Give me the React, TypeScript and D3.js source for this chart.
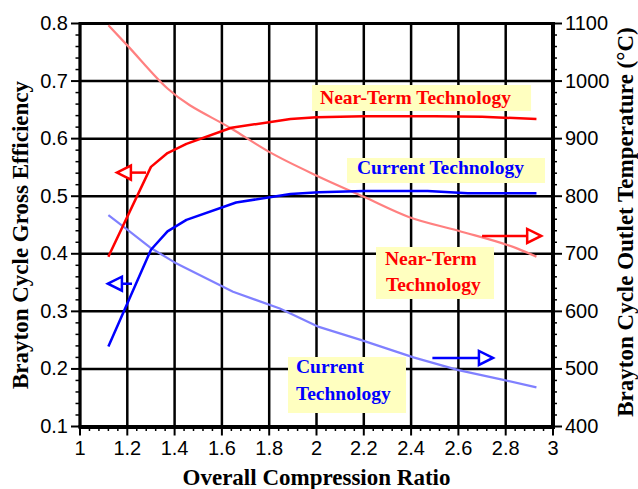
import React from "react";
import * as d3 from "d3";

// ---------- data ----------
const ntEffX = [1.12, 1.3, 1.37, 1.45, 1.64, 1.89, 2.0, 2.2, 2.5, 2.7, 2.93];
const ntEffY = [0.395, 0.551, 0.575, 0.591, 0.619, 0.634, 0.637, 0.639, 0.639, 0.638, 0.634];

const curEffX = [1.12, 1.3, 1.37, 1.45, 1.66, 1.89, 2.01, 2.2, 2.47, 2.64, 2.93];
const curEffY = [0.239, 0.407, 0.439, 0.459, 0.489, 0.504, 0.507, 0.509, 0.509, 0.505, 0.505];

const ntTempX = [1.12, 1.2, 1.37, 1.65, 1.8, 2.01, 2.2, 2.39, 2.6, 2.85, 2.93];
const ntTempY = [1097, 1062, 987, 915, 877, 834, 799, 764, 740, 709, 695];

const curTempX = [1.12, 1.2, 1.296, 1.4, 1.647, 1.845, 2.01, 2.19, 2.41, 2.6, 2.79, 2.93];
const curTempY = [767, 742, 711, 685, 634, 605, 573, 550, 520, 498, 481, 468];

const xTicks = [1, 1.2, 1.4, 1.6, 1.8, 2, 2.2, 2.4, 2.6, 2.8, 3];
const yLeftTicks = [0.1, 0.2, 0.3, 0.4, 0.5, 0.6, 0.7, 0.8];
const yRightTicks = [400, 500, 600, 700, 800, 900, 1000, 1100];

// ---------- layout ----------
const W = 638;
const H = 489;
const L = 80, R = 553, T = 23.5, B = 426.5;

const x = d3.scaleLinear().domain([1, 3]).range([L, R]);
const yL = d3.scaleLinear().domain([0.1, 0.8]).range([B, T]);
const yR = d3.scaleLinear().domain([400, 1100]).range([B, T]);

const RED = "#FF0000";
const BLUE = "#0000FF";
const PINK = "#FF8080";
const LBLUE = "#8080FF";
const BOX = "#FFFFC0";

const SANS = "'Liberation Sans', Arial, sans-serif";
const SERIF = "'Liberation Serif', 'Times New Roman', serif";

function pathFor(
  xs: number[],
  ys: number[],
  yScale: d3.ScaleLinear<number, number>,
  curve: d3.CurveFactory = d3.curveLinear
) {
  const pts = xs.map((v, i) => [v, ys[i]] as [number, number]);
  return d3
    .line<[number, number]>()
    .x((d) => x(d[0]))
    .y((d) => yScale(d[1]))
    .curve(curve)(pts) as string;
}

function Arrow({ x0, x1, yv, color }: { x0: number; x1: number; yv: number; color: string }) {
  const dir = x1 > x0 ? 1 : -1;
  const headLen = 14;
  const half = 7;
  const back = x1 - dir * headLen;
  return (
    <g stroke={color} strokeWidth={2.5} fill="none">
      <line x1={x0} y1={yv} x2={back} y2={yv} />
      <path d={`M${x1},${yv} L${back},${yv - half} L${back},${yv + half} Z`} fill="white" />
    </g>
  );
}

export default function App() {
  const minorX = d3.range(1, 3.0001, 0.04).filter((v) => Math.abs(v * 5 - Math.round(v * 5)) > 1e-6);
  const minorYL = d3.range(0.1, 0.8001, 0.02).filter((v) => Math.abs(v * 10 - Math.round(v * 10)) > 1e-6);
  const minorYR = d3.range(400, 1100.01, 20).filter((v) => v % 100 !== 0);

  return (
    <svg width={W} height={H} style={{ position: "absolute", left: 0, top: 0, background: "white" }}>
      <rect x={0} y={0} width={W} height={H} fill="white" />
      {/* grid */}
      <g stroke="black" strokeWidth={2.5}>
        {xTicks.map((t) => (
          <line key={"gx" + t} x1={x(t)} x2={x(t)} y1={T} y2={B} />
        ))}
        {yLeftTicks.map((t) => (
          <line key={"gy" + t} x1={L} x2={R} y1={yL(t)} y2={yL(t)} />
        ))}
      </g>
      {/* frame */}
      <g stroke="black">
        <line x1={L} x2={L} y1={T - 1.5} y2={B + 1.5} strokeWidth={3} />
        <line x1={R} x2={R} y1={T - 1.5} y2={B + 2} strokeWidth={4} />
        <line x1={L} x2={R} y1={T} y2={T} strokeWidth={3} />
        <line x1={L - 1.5} x2={R + 2} y1={B + 0.5} y2={B + 0.5} strokeWidth={4} />
      </g>
      {/* ticks */}
      <g stroke="black" strokeWidth={2}>
        {xTicks.map((t) => (
          <line key={"tx" + t} x1={x(t)} x2={x(t)} y1={B} y2={B + 9} />
        ))}
        {minorX.map((t) => (
          <line key={"mx" + t} x1={x(t)} x2={x(t)} y1={B + 2} y2={B + 4.5} strokeWidth={1.5} />
        ))}
        {yLeftTicks.map((t) => (
          <line key={"ty" + t} x1={L - 9} x2={L} y1={yL(t)} y2={yL(t)} />
        ))}
        {minorYL.map((t) => (
          <line key={"my" + t} x1={L - 4.5} x2={L} y1={yL(t)} y2={yL(t)} strokeWidth={1.5} />
        ))}
        {yRightTicks.map((t) => (
          <line key={"tr" + t} x1={R} x2={R + 9} y1={yR(t)} y2={yR(t)} />
        ))}
        {minorYR.map((t) => (
          <line key={"mr" + t} x1={R} x2={R + 4} y1={yR(t)} y2={yR(t)} strokeWidth={1.5} />
        ))}
      </g>
      {/* tick labels */}
      <g fontFamily={SANS} fontSize={20} fill="black">
        {xTicks.map((t) => (
          <text key={"lx" + t} x={x(t)} y={455} textAnchor="middle">
            {d3.format("~g")(t)}
          </text>
        ))}
        {yLeftTicks.map((t) => (
          <text key={"ly" + t} x={68} y={yL(t) + 6.5} textAnchor="end">
            {d3.format(".1f")(t)}
          </text>
        ))}
        {yRightTicks.map((t) => (
          <text key={"lr" + t} x={565} y={yR(t) + 6.5} textAnchor="start">
            {t}
          </text>
        ))}
      </g>
      {/* series */}
      <g fill="none" strokeLinejoin="round">
        <path d={pathFor(ntTempX, ntTempY, yR, d3.curveMonotoneX)} stroke={PINK} strokeWidth={2.2} />
        <path d={pathFor(curTempX, curTempY, yR)} stroke={LBLUE} strokeWidth={2.2} />
        <path d={pathFor(ntEffX, ntEffY, yL)} stroke={RED} strokeWidth={2.5} />
        <path d={pathFor(curEffX, curEffY, yL)} stroke={BLUE} strokeWidth={2.5} />
      </g>
      {/* arrows */}
      <Arrow x0={x(1.279)} x1={x(1.156)} yv={yL(0.541)} color={RED} />
      <Arrow x0={x(1.22)} x1={x(1.118)} yv={yL(0.348)} color={BLUE} />
      <Arrow x0={x(2.7)} x1={x(2.95)} yv={yR(731)} color={RED} />
      <Arrow x0={x(2.49)} x1={x(2.746)} yv={yR(519)} color={BLUE} />
      {/* labels */}
      <g fontFamily={SERIF} fontWeight="bold" fontSize={19.5}>
        <rect x={x(2.015) - 8} y={85} width={219} height={26} fill={BOX} />
        <text x={x(2.015)} y={103.5} fill={RED}>Near-Term Technology</text>

        <rect x={347} y={158} width={198} height={25} fill={BOX} />
        <text x={357} y={173.5} fill={BLUE}>Current Technology</text>

        <rect x={376} y={247} width={118} height={52} fill={BOX} />
        <text x={385} y={264.5} fill={RED}>Near-Term</text>
        <text x={386} y={291} fill={RED}>Technology</text>

        <rect x={288} y={357} width={118} height={56} fill={BOX} />
        <text x={296} y={373} fill={BLUE}>Current</text>
        <text x={296} y={399.5} fill={BLUE}>Technology</text>
      </g>
      {/* axis titles */}
      <g fontFamily={SERIF} fontWeight="bold" fontSize={23} fill="black">
        <text x={316.5} y={485} textAnchor="middle">Overall Compression Ratio</text>
        <text transform={`translate(28,${(73 + 397) / 2}) rotate(-90)`} textAnchor="middle">
          Brayton Cycle Gross Efficiency
        </text>
        <text transform={`translate(633,${(22 + 422) / 2}) rotate(-90)`} textAnchor="middle">
          Brayton Cycle Outlet Temperature (°C)
        </text>
      </g>
    </svg>
  );
}
